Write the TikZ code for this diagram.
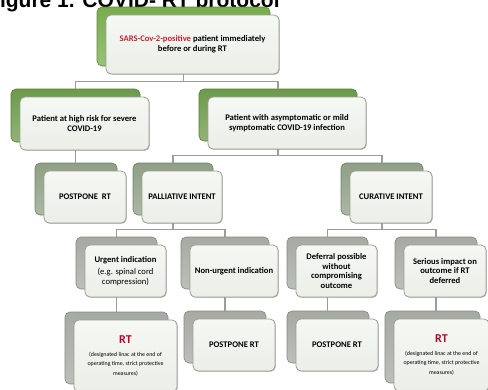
\documentclass[tikz,border=0pt]{standalone}
\usepackage{fontspec}
\setmainfont{Carlito}
\newfontfamily\titlefont{Liberation Sans}
\usetikzlibrary{shadows}
\definecolor{boxfill}{HTML}{F5F8F3}
\definecolor{boxfillb}{HTML}{EBEFE8}
\definecolor{boxborder}{HTML}{9AA097}
\definecolor{greenA}{HTML}{78AC4C}
\definecolor{greenB}{HTML}{6C9A4A}
\definecolor{greyG}{HTML}{8FA086}
\definecolor{greyC}{HTML}{A5AAA2}
\definecolor{connc}{HTML}{9A9E98}
\definecolor{redtxt}{HTML}{D0202E}
\definecolor{rtred}{HTML}{C00028}
\newcommand\boxfont{\bfseries\fontsize{8.6}{9.8}\selectfont}
\newcommand\notefont{\mdseries\fontsize{5.9}{6.6}\selectfont}
\newcommand\regfont{\mdseries\fontsize{8.6}{9.8}\selectfont}
\tikzset{
  backbox/.style={rounded corners=5pt, top color=#1, bottom color=#1!75!white, draw=#1!80!black, line width=0.6pt},
  frontbox/.style={rounded corners=5pt, top color=boxfill, bottom color=boxfillb,
    draw=boxborder, line width=0.8pt, align=center, font=\boxfont, inner sep=2pt,
    drop shadow={shadow xshift=0.8pt, shadow yshift=-0.8pt, opacity=0.25, fill=black}},
  conn/.style={draw=connc, line width=1.2pt},
}
\newcommand\twobox[7]{%
  \node[backbox=#2, minimum width=#5pt, minimum height=#6pt] (#1-b) at (#3+#5/2,#4+#6/2) {};
  \node[frontbox, minimum width=#5pt, minimum height=#6pt] (#1) at (#3+9+#5/2,#4+8+#6/2) {#7};
}
\begin{document}
\begin{tikzpicture}[x=1pt,y=-1pt]
\useasboundingbox (0,0) rectangle (488,389);
\clip (0,0) rectangle (488,389);
\node[anchor=base west, inner sep=0pt, font=\titlefont\bfseries\fontsize{21}{24}\selectfont] (title) at (-13,7) {Figure 1. COVID- RT protocol};

\twobox{top}{greenA}{97}{7}{173}{59}{{\color{redtxt}SARS-Cov-2-positive} patient immediately\\ before or during RT}
\twobox{hr}{greenB}{11}{89}{129}{53}{Patient at high risk for severe\\ COVID-19}
\twobox{as}{greenB}{199}{89}{158}{52}{Patient with asymptomatic or mild\\ symptomatic COVID-19 infection}
\twobox{ppa}{greyG}{35}{163}{82}{52}{POSTPONE\ \ RT}
\twobox{pal}{greyG}{133}{163}{80}{52}{PALLIATIVE INTENT}
\twobox{cur}{greyG}{341}{163}{82}{52}{CURATIVE INTENT}
\twobox{ur}{greyC}{76}{237}{81}{52}{Urgent indication\\[2pt] {\regfont (e.g. spinal cord}\\ {\regfont compression)}}
\twobox{nu}{greyC}{181}{237}{88}{52}{Non-urgent indication}
\twobox{de}{greyC}{287}{237}{81}{52}{Deferral possible\\ without\\ compromising\\ outcome}
\twobox{se}{greyC}{395}{237}{82}{52}{Serious impact on\\ outcome if RT\\ deferred}
\twobox{rta}{greyC}{65}{312}{103}{72}{{\color{rtred}\fontsize{12}{14}\selectfont RT}\\[3pt] {\notefont (designated linac at the end of}\\ {\notefont operating time, strict protective}\\ {\notefont measures)}}
\twobox{ppb}{greyC}{184}{311}{82}{52}{POSTPONE RT}
\twobox{ppc}{greyC}{287}{311}{82}{52}{POSTPONE RT}
\twobox{rtb}{greyC}{385}{311}{95}{72}{{\color{rtred}\fontsize{12}{14}\selectfont RT}\\[3pt] {\notefont (designated linac at the end of}\\ {\notefont operating time, strict protective}\\ {\notefont measures)}}

\draw[conn] (top-b |- top.south) -- ++(0,7) -| (hr-b.north);
\draw[conn] (top-b |- top.south) -- ++(0,7) -| (as-b.north);
\draw[conn] (hr-b |- hr.south) -- (hr-b |- ppa-b.north);
\draw[conn] (as-b |- as.south) -- ++(0,6) -| (pal-b.north);
\draw[conn] (as-b |- as.south) -- ++(0,6) -| (cur-b.north);
\draw[conn] (pal-b |- pal.south) -- ++(0,6) -| (ur-b.north);
\draw[conn] (pal-b |- pal.south) -- ++(0,6) -| (nu-b.north);
\draw[conn] (cur-b |- cur.south) -- ++(0,6) -| (de-b.north);
\draw[conn] (cur-b |- cur.south) -- ++(0,6) -| (se-b.north);
\draw[conn] (ur-b |- ur.south) -- (ur-b |- rta-b.north);
\draw[conn] (nu-b |- nu.south) -- (nu-b |- ppb-b.north);
\draw[conn] (de-b |- de.south) -- (de-b |- ppc-b.north);
\draw[conn] (se-b |- se.south) -- (se-b |- rtb-b.north);
\end{tikzpicture}
\end{document}
